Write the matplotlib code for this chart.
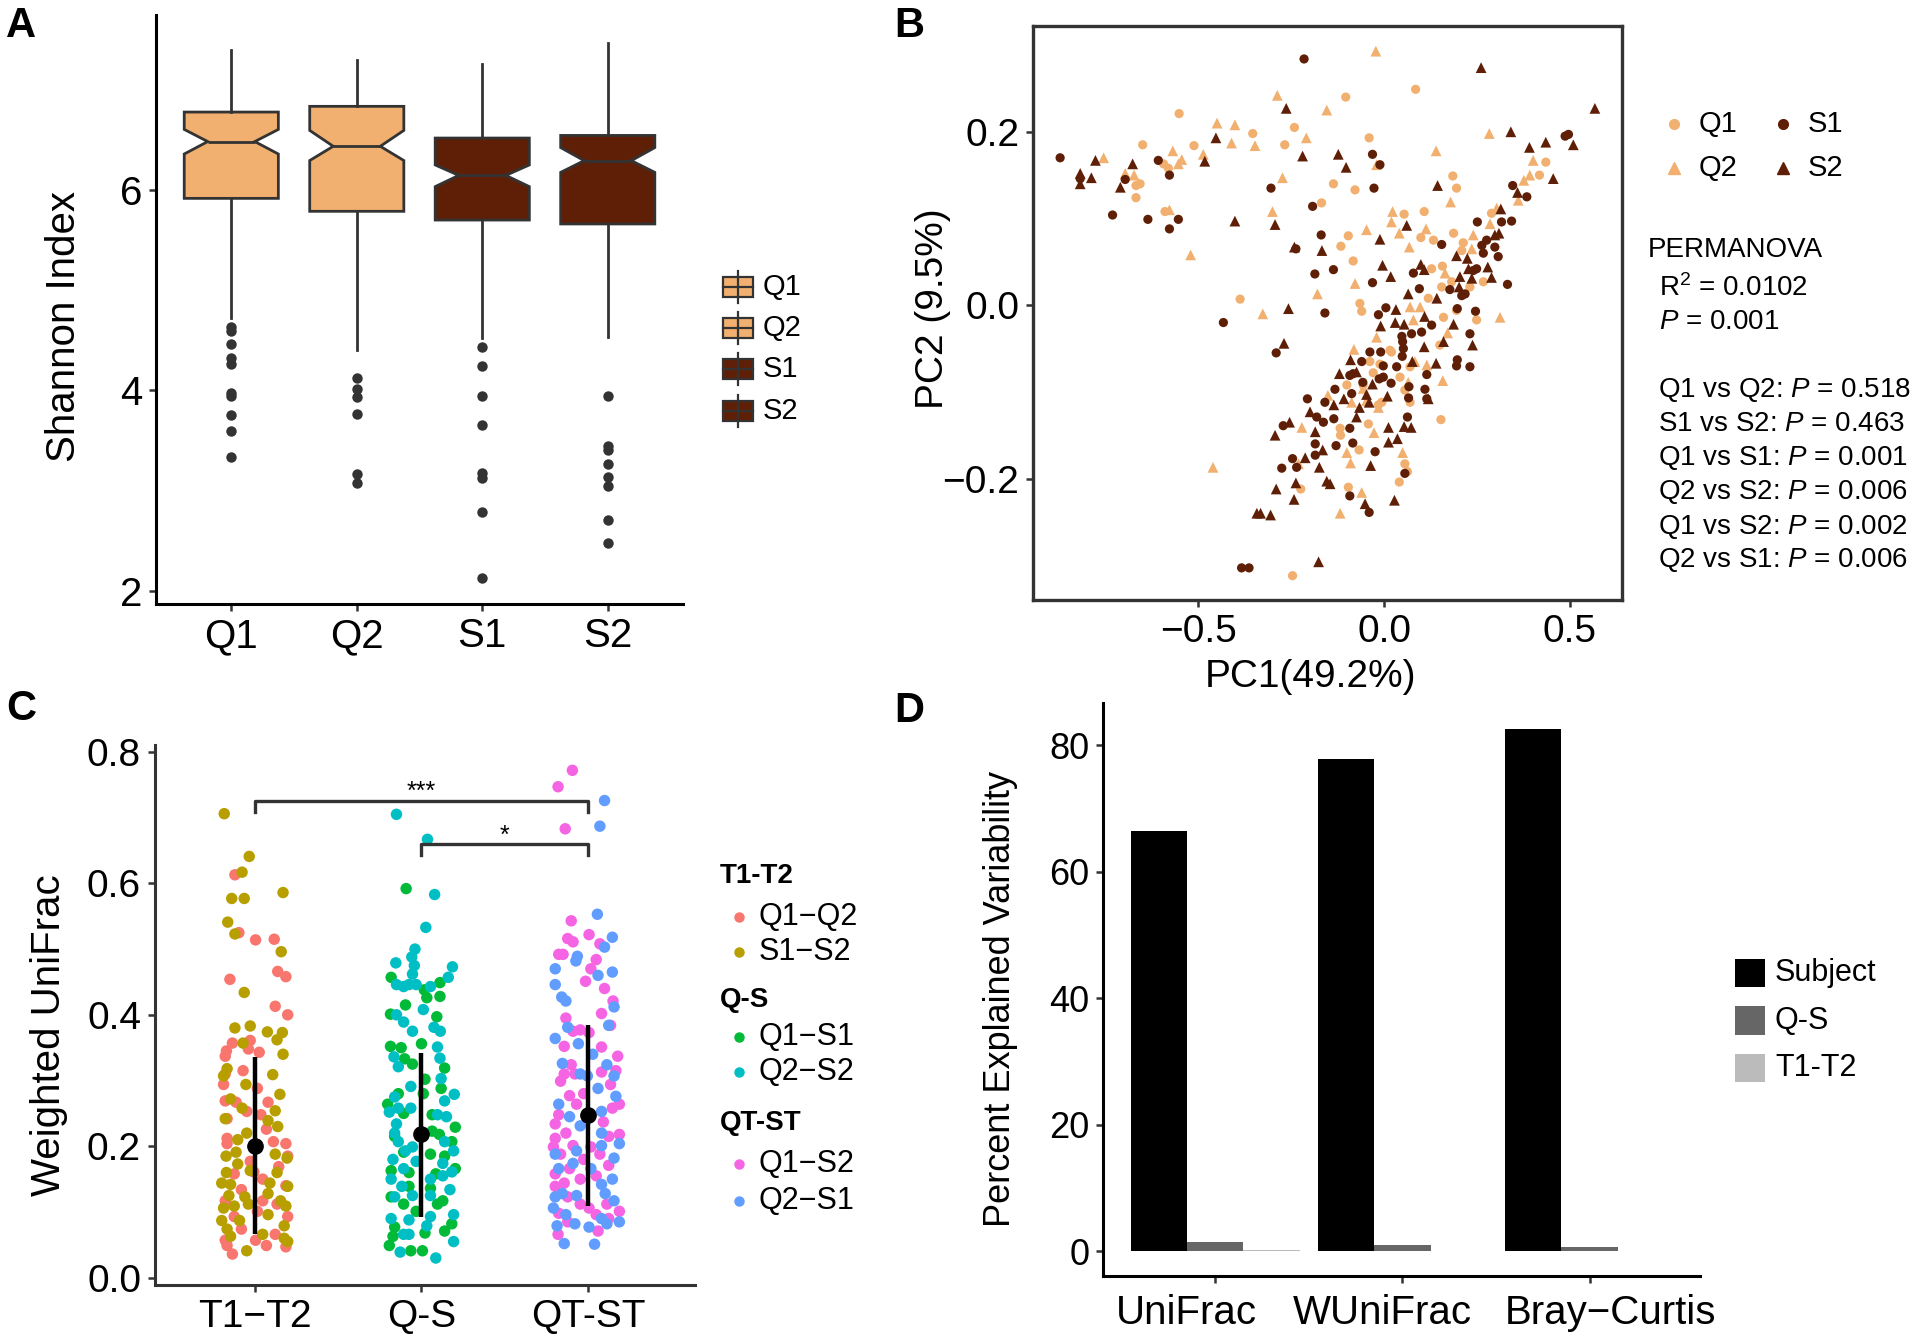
import matplotlib

matplotlib.use("Agg")
import matplotlib.pyplot as plt
from matplotlib.patches import Rectangle
from matplotlib.lines import Line2D

plt.rcParams["font.family"] = ["Liberation Sans", "DejaVu Sans"]
plt.rcParams["mathtext.fontset"] = "custom"
plt.rcParams["mathtext.rm"] = "Liberation Sans"
plt.rcParams["mathtext.it"] = "Liberation Sans:italic"

LIGHT = "#F1B06F"
DARK = "#5F1F07"
GREY = "#333333"

# ---------------- panel A: Shannon index ----------------
a_groups = ["Q1", "Q2", "S1", "S2"]
a_med = [6.479, 6.432, 6.142, 6.289]
a_q1 = [5.913, 5.784, 5.697, 5.658]
a_q3 = [6.773, 6.830, 6.514, 6.540]
a_cilo = [6.355, 6.290, 6.030, 6.172]
a_cihi = [6.600, 6.590, 6.246, 6.419]
a_whislo = [4.720, 4.397, 4.519, 4.527]
a_whishi = [7.390, 7.296, 7.248, 7.464]
a_fliers = [
    [4.635, 4.592, 4.462, 4.324, 4.259, 3.978, 3.948, 3.754, 3.590, 3.331],
    [4.121, 4.009, 3.931, 3.767, 3.171, 3.072],
    [4.427, 4.246, 3.944, 3.659, 3.179, 3.123, 2.791, 2.134],
    [3.944, 3.447, 3.404, 3.266, 3.136, 3.042, 2.704, 2.480],
]
a_colors = [LIGHT, LIGHT, DARK, DARK]

# ---------------- panel B: PCoA ----------------
b_q1 = [(-0.551, 0.221), (-0.649, 0.185), (-0.511, 0.184), (-0.353, 0.198), (-0.241, 0.205),
        (-0.267, 0.185), (-0.593, 0.163), (-0.580, 0.158), (-0.667, 0.138), (-0.656, 0.140),
        (-0.667, 0.124), (-0.589, 0.108), (-0.168, 0.118), (-0.387, 0.007),
        (0.085, 0.249), (-0.103, 0.240), (-0.040, 0.193), (-0.136, 0.140), (-0.078, 0.133),
        (0.185, 0.149), (0.195, 0.135), (0.054, 0.105), (0.108, 0.108), (-0.096, 0.080),
        (-0.116, 0.068), (0.187, 0.083), (0.099, 0.078), (0.133, 0.075), (-0.083, 0.051),
        (0.435, 0.165), (0.418, 0.150), (0.213, 0.072), (0.209, 0.063), (0.289, 0.106),
        (0.128, 0.042), (0.157, 0.045), (0.155, 0.021), (0.182, 0.027), (-0.065, 0.002),
        (-0.060, -0.007), (0.119, 0.008), (0.160, -0.014), (0.195, -0.006), (0.231, 0.021),
        (0.267, 0.027), (-0.224, -0.212), (-0.246, -0.312),
        (0.249, -0.017), (0.016, -0.052), (-0.038, -0.065), (-0.011, -0.068), (0.070, -0.071),
        (0.043, -0.083), (0.056, -0.098), (0.070, -0.112), (-0.015, -0.115), (-0.006, -0.112),
        (-0.042, -0.137), (-0.118, -0.142), (-0.117, -0.150), (-0.067, -0.167), (0.153, -0.132),
        (0.056, -0.183), (0.063, -0.192), (0.041, -0.204), (-0.096, -0.210), (-0.056, -0.092),
        (-0.100, -0.092), (-0.029, -0.078), (0.020, -0.054), (0.150, -0.046)]
b_q2 = [(-0.287, 0.242), (-0.449, 0.210), (-0.401, 0.208), (-0.209, 0.193), (-0.410, 0.187),
        (-0.347, 0.184), (-0.568, 0.178), (-0.486, 0.174), (-0.544, 0.168), (-0.553, 0.163),
        (-0.754, 0.170), (-0.696, 0.152), (-0.672, 0.150), (-0.273, 0.147), (-0.577, 0.110),
        (-0.300, 0.108), (-0.520, 0.058), (-0.179, 0.013), (-0.326, -0.010), (-0.154, 0.225),
        (-0.022, 0.293), (0.283, 0.198), (0.140, 0.178), (-0.020, 0.162), (0.179, 0.119),
        (0.023, 0.108), (0.020, 0.096), (-0.047, 0.087), (0.041, 0.083), (0.113, 0.088),
        (0.068, 0.067), (0.240, 0.081), (0.401, 0.167), (0.392, 0.150), (0.376, 0.144),
        (0.361, 0.121), (0.303, 0.112), (0.285, 0.094), (-0.078, 0.025), (0.070, -0.002),
        (0.097, -0.002), (0.312, -0.014), (0.164, 0.037), (0.236, 0.065),
        (-0.221, -0.141), (-0.460, -0.187), (-0.230, -0.183), (-0.151, -0.104),
        (0.079, -0.017), (0.171, -0.032), (-0.081, -0.051), (-0.020, -0.037), (0.115, -0.069),
        (0.158, -0.087), (-0.056, -0.096), (-0.087, -0.112), (-0.047, -0.110), (-0.015, -0.118),
        (-0.027, -0.147), (-0.100, -0.170), (-0.090, -0.182), (0.050, -0.170), (-0.060, -0.216),
        (-0.118, -0.240), (0.065, -0.089), (0.083, -0.065)]
b_s1 = [(-0.215, 0.284), (-0.871, 0.170), (-0.607, 0.167), (-0.577, 0.150), (-0.696, 0.145),
        (-0.817, 0.146), (-0.304, 0.135), (-0.192, 0.114), (-0.730, 0.104), (-0.635, 0.099),
        (-0.553, 0.099), (-0.577, 0.088), (-0.169, 0.081), (-0.237, 0.065), (-0.186, 0.036),
        (-0.159, -0.009),
        (0.496, 0.197), (0.487, 0.195), (-0.031, 0.174), (-0.011, 0.162), (-0.027, 0.135),
        (0.346, 0.138), (0.384, 0.125), (0.251, 0.096), (0.316, 0.096), (0.343, 0.097),
        (0.155, 0.070), (0.263, 0.069), (0.276, 0.075), (0.298, 0.067), (0.307, 0.056),
        (0.267, 0.060), (0.079, 0.037), (-0.031, 0.026), (0.095, 0.019), (0.177, 0.018),
        (0.249, 0.042), (0.240, 0.040), (0.332, 0.024), (-0.136, 0.041), (0.005, -0.003),
        (-0.015, -0.011), (0.197, -0.004), (0.246, -0.007), (0.218, 0.013), (0.209, 0.011),
        (-0.432, -0.020), (-0.290, -0.055), (-0.206, -0.108), (-0.159, -0.112), (-0.271, -0.139),
        (-0.181, -0.129), (-0.163, -0.135), (-0.185, -0.160), (-0.185, -0.173), (-0.246, -0.177),
        (-0.275, -0.188), (-0.235, -0.187), (-0.383, -0.303), (-0.363, -0.303),
        (0.231, -0.033), (0.197, -0.063), (0.195, -0.070), (0.231, -0.071), (0.115, -0.080),
        (-0.038, -0.054), (-0.009, -0.054), (-0.060, -0.065), (-0.002, -0.070), (-0.057, -0.089),
        (0.019, -0.090), (0.067, -0.094), (0.110, -0.097), (0.066, -0.107), (0.115, -0.108),
        (-0.132, -0.097), (-0.087, -0.102), (-0.135, -0.131), (-0.092, -0.142), (-0.084, -0.159),
        (-0.129, -0.162), (-0.024, -0.169), (0.063, -0.129), (0.056, -0.194), (-0.092, -0.220),
        (-0.040, -0.239), (0.048, -0.036), (0.052, -0.050), (-0.002, -0.083), (-0.013, -0.085),
        (-0.092, -0.081), (-0.083, -0.079), (0.034, -0.071), (0.049, -0.059), (0.074, -0.033),
        (0.101, -0.031), (0.128, -0.023), (0.050, -0.042)]
b_s2 = [(-0.263, 0.227), (-0.452, 0.193), (-0.776, 0.167), (-0.482, 0.166), (-0.676, 0.163),
        (-0.219, 0.172), (-0.817, 0.152), (-0.787, 0.147), (-0.817, 0.140), (-0.709, 0.136),
        (-0.401, 0.097), (-0.293, 0.093), (-0.241, 0.067), (-0.167, 0.063), (-0.257, -0.004),
        (0.261, 0.274), (0.567, 0.227), (0.341, 0.200), (0.391, 0.182), (0.435, 0.188),
        (0.509, 0.185), (0.455, 0.146), (-0.123, 0.174), (-0.102, 0.159), (0.144, 0.138),
        (0.359, 0.130), (0.314, 0.111), (0.061, 0.092), (-0.011, 0.076), (0.309, 0.083),
        (0.298, 0.081), (-0.004, 0.046), (0.018, 0.033), (0.099, 0.047), (0.108, 0.041),
        (0.065, 0.013), (0.195, 0.057), (0.224, 0.054), (0.227, 0.042), (0.279, 0.044),
        (0.289, 0.032), (0.204, 0.033), (0.236, 0.031), (0.032, -0.005), (0.109, -0.013),
        (0.142, 0.008), (0.202, 0.021),
        (-0.269, -0.044), (-0.254, -0.135), (-0.293, -0.150), (-0.199, -0.123), (-0.185, -0.146),
        (-0.212, -0.176), (-0.165, -0.167), (-0.174, -0.187), (-0.154, -0.203), (-0.237, -0.205),
        (-0.290, -0.212), (-0.242, -0.224), (-0.342, -0.240), (-0.332, -0.240), (-0.305, -0.242),
        (-0.176, -0.296),
        (-0.009, -0.024), (0.030, -0.020), (0.054, -0.022), (0.187, -0.022), (0.160, -0.042),
        (0.238, -0.046), (0.108, -0.048), (0.076, -0.065), (0.140, -0.067), (-0.090, -0.063),
        (-0.120, -0.079), (-0.074, -0.077), (-0.031, -0.091), (0.009, -0.105), (0.119, -0.108),
        (-0.047, -0.103), (-0.040, -0.112), (-0.108, -0.108), (-0.135, -0.115), (-0.066, -0.118),
        (-0.074, -0.129), (0.012, -0.141), (0.054, -0.140), (0.073, -0.141), (0.012, -0.158),
        (0.036, -0.154), (-0.036, -0.185), (-0.051, -0.229), (0.028, -0.225), (-0.145, -0.206)]
b_pairs = ["Q1 vs Q2", "S1 vs S2", "Q1 vs S1", "Q2 vs S2", "Q1 vs S2", "Q2 vs S1"]
b_pvals = ["0.518", "0.463", "0.001", "0.006", "0.002", "0.006"]

# ---------------- panel C: weighted UniFrac (jitter offset, value) ----------------
c_cats = ["T1\u2212T2", "Q-S", "QT-ST"]
c_q1q2 = [(-0.120, 0.613), (-0.096, 0.525), (0.004, 0.514), (0.116, 0.515), (-0.150, 0.454),
          (0.137, 0.466), (0.186, 0.458), (0.122, 0.413), (0.197, 0.400), (-0.135, 0.357),
          (-0.028, 0.361), (-0.171, 0.345), (-0.178, 0.337), (-0.039, 0.348), (-0.071, 0.315),
          (-0.178, 0.310), (0.026, 0.343), (-0.188, 0.294), (-0.178, 0.269), (-0.113, 0.267),
          (0.079, 0.267), (0.015, 0.288), (-0.167, 0.242), (0.036, 0.248), (-0.049, 0.253),
          (-0.167, 0.212), (-0.167, 0.204), (0.069, 0.226), (0.186, 0.204), (0.197, 0.185),
          (0.111, 0.207), (-0.028, 0.177), (-0.124, 0.158), (0.143, 0.169), (0.047, 0.150),
          (-0.006, 0.161), (0.186, 0.140), (-0.081, 0.134), (-0.178, 0.117), (0.047, 0.117),
          (0.133, 0.112), (0.015, 0.101), (-0.124, 0.093), (0.197, 0.093), (-0.178, 0.057),
          (0.004, 0.057), (0.069, 0.049), (-0.167, 0.049), (-0.135, 0.036), (0.186, 0.047),
          (0.122, 0.066), (-0.081, 0.074)]
c_s1s2 = [(-0.184, 0.706), (-0.034, 0.641), (-0.077, 0.617), (-0.139, 0.577), (-0.064, 0.577),
          (0.169, 0.586), (-0.163, 0.541), (-0.120, 0.523), (0.158, 0.496), (-0.064, 0.434),
          (-0.120, 0.380), (-0.028, 0.383), (0.075, 0.374), (0.165, 0.373), (0.133, 0.362),
          (0.169, 0.340), (-0.071, 0.357), (0.107, 0.309), (-0.167, 0.318), (-0.188, 0.307),
          (-0.054, 0.294), (0.150, 0.279), (-0.146, 0.272), (-0.077, 0.258), (0.122, 0.254),
          (-0.178, 0.242), (0.079, 0.239), (0.137, 0.230), (-0.103, 0.210), (-0.049, 0.220),
          (-0.173, 0.185), (-0.113, 0.191), (0.122, 0.188), (0.193, 0.182), (-0.103, 0.173),
          (-0.028, 0.163), (-0.171, 0.160), (-0.199, 0.144), (-0.146, 0.142), (0.133, 0.160),
          (0.090, 0.144), (0.197, 0.139), (-0.156, 0.125), (-0.060, 0.123), (0.079, 0.128),
          (0.154, 0.117), (-0.188, 0.106), (-0.124, 0.109), (-0.039, 0.112), (0.186, 0.109),
          (-0.199, 0.087), (-0.092, 0.087), (0.079, 0.096), (0.176, 0.079), (-0.167, 0.074),
          (0.047, 0.066), (-0.146, 0.063), (0.176, 0.060), (-0.049, 0.041), (0.197, 0.055)]
c_q1s1 = [(-0.092, 0.592), (-0.182, 0.457), (0.111, 0.449), (0.017, 0.438), (0.032, 0.426),
          (0.111, 0.428), (-0.096, 0.415), (-0.186, 0.401), (0.092, 0.397), (0.000, 0.356),
          (-0.186, 0.352), (-0.122, 0.350), (-0.101, 0.333), (-0.054, 0.325), (0.139, 0.319),
          (0.021, 0.302), (0.118, 0.288), (-0.139, 0.280), (0.011, 0.280), (-0.203, 0.264),
          (-0.107, 0.250), (0.064, 0.248), (0.203, 0.229), (-0.161, 0.215), (0.064, 0.223),
          (0.107, 0.218), (0.182, 0.207), (-0.107, 0.191), (0.054, 0.188), (0.139, 0.185),
          (-0.182, 0.163), (-0.075, 0.160), (0.086, 0.158), (0.203, 0.166), (-0.075, 0.139),
          (0.054, 0.136), (0.128, 0.117), (-0.182, 0.123), (-0.107, 0.112), (-0.032, 0.101),
          (0.096, 0.112), (0.182, 0.082), (-0.161, 0.077), (-0.171, 0.063), (0.139, 0.071),
          (-0.193, 0.049), (0.006, 0.041), (-0.064, 0.041), (0.021, 0.068)]
c_q2s2 = [(-0.150, 0.705), (0.036, 0.667), (0.079, 0.583), (0.026, 0.533), (-0.039, 0.500),
          (-0.058, 0.488), (-0.043, 0.475), (-0.154, 0.479), (-0.054, 0.462), (0.186, 0.473),
          (0.161, 0.457), (-0.075, 0.446), (-0.150, 0.446), (-0.107, 0.443), (-0.032, 0.446),
          (0.054, 0.443), (0.011, 0.408), (-0.150, 0.400), (-0.107, 0.389), (-0.054, 0.375),
          (0.075, 0.381), (0.113, 0.375), (0.096, 0.351), (0.111, 0.334), (-0.165, 0.336),
          (-0.139, 0.321), (0.118, 0.303), (-0.064, 0.291), (-0.161, 0.275), (0.139, 0.269),
          (0.197, 0.279), (-0.139, 0.258), (-0.193, 0.252), (-0.064, 0.258), (0.096, 0.248),
          (0.150, 0.245), (-0.150, 0.234), (-0.161, 0.220), (-0.139, 0.207), (-0.096, 0.193),
          (-0.054, 0.199), (0.139, 0.207), (0.193, 0.193), (-0.171, 0.180), (-0.107, 0.166),
          (-0.032, 0.177), (0.128, 0.174), (0.182, 0.161), (-0.182, 0.150), (-0.118, 0.139),
          (0.054, 0.150), (0.128, 0.155), (-0.161, 0.123), (-0.054, 0.125), (0.054, 0.125),
          (0.171, 0.134), (-0.182, 0.090), (-0.075, 0.088), (0.032, 0.079), (0.193, 0.096),
          (-0.107, 0.066), (-0.075, 0.066), (0.054, 0.093), (0.193, 0.055), (-0.128, 0.039),
          (0.086, 0.030)]
c_q1s2 = [(-0.094, 0.772), (-0.180, 0.747), (-0.137, 0.683), (-0.101, 0.543), (0.006, 0.522),
          (-0.122, 0.516), (-0.090, 0.511), (0.071, 0.508), (-0.176, 0.492), (-0.150, 0.492),
          (0.049, 0.484), (0.017, 0.470), (-0.015, 0.451), (0.099, 0.440), (0.150, 0.421),
          (0.081, 0.402), (-0.133, 0.395), (0.135, 0.384), (-0.090, 0.375), (-0.047, 0.377),
          (0.006, 0.373), (-0.143, 0.352), (0.081, 0.351), (0.178, 0.337), (0.167, 0.315),
          (0.081, 0.313), (-0.101, 0.324), (-0.143, 0.310), (-0.165, 0.299), (-0.079, 0.310),
          (0.135, 0.294), (-0.026, 0.280), (-0.111, 0.277), (-0.069, 0.264), (-0.176, 0.248),
          (0.188, 0.264), (0.146, 0.258), (0.092, 0.237), (-0.197, 0.234), (-0.133, 0.220),
          (-0.197, 0.212), (-0.090, 0.201), (0.017, 0.199), (0.124, 0.215), (0.188, 0.218),
          (-0.208, 0.199), (-0.165, 0.188), (0.071, 0.188), (-0.026, 0.180), (0.124, 0.171),
          (-0.111, 0.166), (-0.197, 0.158), (-0.047, 0.150), (0.049, 0.155), (-0.143, 0.144),
          (-0.197, 0.139), (-0.122, 0.123), (-0.047, 0.112), (0.006, 0.106), (0.113, 0.112),
          (-0.176, 0.098), (0.188, 0.101), (0.049, 0.096), (-0.122, 0.085), (0.124, 0.090),
          (-0.180, 0.066), (0.060, 0.071)]
c_q2s1 = [(0.099, 0.726), (0.071, 0.687), (0.056, 0.553), (0.146, 0.518), (0.099, 0.503),
          (-0.064, 0.489), (-0.073, 0.482), (-0.197, 0.470), (0.060, 0.460), (0.146, 0.465),
          (-0.197, 0.446), (-0.158, 0.427), (-0.133, 0.421), (0.156, 0.412), (0.124, 0.384),
          (-0.197, 0.364), (-0.122, 0.381), (-0.058, 0.356), (0.028, 0.340), (-0.154, 0.326),
          (0.113, 0.324), (0.156, 0.307), (-0.047, 0.310), (0.060, 0.288), (-0.004, 0.307),
          (-0.176, 0.264), (0.167, 0.276), (-0.111, 0.245), (0.081, 0.253), (0.188, 0.204),
          (-0.197, 0.188), (-0.047, 0.231), (0.081, 0.220), (-0.069, 0.193), (0.081, 0.201),
          (0.156, 0.182), (-0.176, 0.166), (-0.090, 0.174), (0.017, 0.166), (0.146, 0.150),
          (-0.154, 0.128), (0.081, 0.142), (-0.197, 0.123), (-0.069, 0.125), (0.103, 0.128),
          (0.156, 0.117), (-0.208, 0.106), (-0.133, 0.096), (0.081, 0.090), (0.188, 0.085),
          (-0.186, 0.079), (-0.079, 0.082), (0.006, 0.077), (-0.143, 0.052), (0.039, 0.051),
          (0.113, 0.082)]
c_mean = [0.201, 0.219, 0.248]
c_lo = [0.066, 0.093, 0.109]
c_hi = [0.336, 0.342, 0.385]

# ---------------- panel D: explained variability ----------------
d_metrics = ["UniFrac", "WUniFrac", "Bray\u2212Curtis"]
d_subject = [66.5, 77.9, 82.6]
d_qs = [1.5, 1.0, 0.66]
d_t1t2 = [0.15, 0.1, 0.1]

fig = plt.figure(figsize=(19.2, 13.41), dpi=100)


def style_axes(ax, lw=2.2):
    for side in ("top", "right"):
        ax.spines[side].set_visible(False)
    for side in ("left", "bottom"):
        ax.spines[side].set_linewidth(lw)
        ax.spines[side].set_color("black")
    ax.tick_params(length=5, width=1.8, color=GREY, labelcolor="black", pad=5)


def centre_labels(ax):
    ax.xaxis.label.set_verticalalignment("center")
    ax.yaxis.label.set_verticalalignment("center")


# ---- A
axA = fig.add_axes([0.08125, 0.5499, 0.2745, 0.4389])
stats = []
for i in range(4):
    stats.append(dict(med=a_med[i], q1=a_q1[i], q3=a_q3[i], cilo=a_cilo[i], cihi=a_cihi[i],
                      whislo=a_whislo[i], whishi=a_whishi[i], fliers=a_fliers[i], label=a_groups[i]))
bp = axA.bxp(stats, positions=[1, 2, 3, 4], widths=0.75, shownotches=True, showcaps=False,
             patch_artist=True,
             boxprops=dict(edgecolor=GREY, linewidth=2.0),
             medianprops=dict(color=GREY, linewidth=2.0),
             whiskerprops=dict(color=GREY, linewidth=2.0),
             flierprops=dict(marker="o", markerfacecolor=GREY, markeredgecolor="none", markersize=7.5))
for patch, col in zip(bp["boxes"], a_colors):
    patch.set_facecolor(col)
axA.set_xlim(0.4, 4.6)
axA.set_ylim(1.875, 7.74)
axA.set_yticks([2, 4, 6])
style_axes(axA)
axA.tick_params(labelsize=29)
axA.set_ylabel("Shannon Index", fontsize=29)
centre_labels(axA)
axA.yaxis.set_label_coords(-0.175, 0.47)

# ---- B
axB = fig.add_axes([0.5382, 0.5526, 0.3068, 0.4280])
for pts, col, mk, sz in ((b_q1, LIGHT, "o", 44), (b_q2, LIGHT, "^", 60),
                         (b_s1, DARK, "o", 44), (b_s2, DARK, "^", 60)):
    axB.scatter([p[0] for p in pts], [p[1] for p in pts], s=sz, c=col, marker=mk,
                edgecolors="none", zorder=3)
axB.set_xlim(-0.943, 0.641)
axB.set_ylim(-0.340, 0.322)
axB.set_xticks([-0.5, 0.0, 0.5])
axB.set_yticks([-0.2, 0.0, 0.2])
axB.set_xticklabels(["\u22120.5", "0.0", "0.5"])
axB.set_yticklabels(["\u22120.2", "0.0", "0.2"])
for sp in axB.spines.values():
    sp.set_linewidth(2.4)
    sp.set_color(GREY)
axB.tick_params(length=5, width=1.8, color=GREY, labelsize=28, pad=5)
axB.set_xlabel("PC1(49.2%)", fontsize=28)
axB.set_ylabel("PC2 (9.5%)", fontsize=28)
centre_labels(axB)
axB.xaxis.set_label_coords(0.47, -0.134)
axB.yaxis.set_label_coords(-0.171, 0.507)

# ---- C
axC = fig.add_axes([0.0807, 0.0418, 0.2811, 0.4024])
c_groups = [(c_q1q2, 1, "#F8766D"), (c_s1s2, 1, "#B79F00"),
            (c_q1s1, 2, "#00BA38"), (c_q2s2, 2, "#00BFC4"),
            (c_q1s2, 3, "#F564E3"), (c_q2s1, 3, "#619CFF")]
for pts, cat, col in c_groups:
    axC.scatter([cat + p[0] for p in pts], [p[1] for p in pts], s=68, c=col,
                edgecolors="none", zorder=2)
axC.vlines([1, 2, 3], c_lo, c_hi, color="black", linewidth=3.2, zorder=4)
axC.plot([1, 2, 3], c_mean, "o", color="black", markersize=11, zorder=5)
axC.plot([1, 1, 3, 3], [0.709, 0.7255, 0.7255, 0.709], color=GREY, linewidth=2.4, zorder=3)
axC.plot([2, 2, 3, 3], [0.643, 0.660, 0.660, 0.643], color=GREY, linewidth=2.4, zorder=3)
axC.text(2, 0.729, "***", ha="center", va="baseline", fontsize=18)
axC.text(2.5, 0.662, "*", ha="center", va="baseline", fontsize=18)
axC.set_xlim(0.4, 3.64)
axC.set_ylim(-0.011, 0.81)
axC.set_xticks([1, 2, 3])
axC.set_xticklabels(c_cats)
axC.set_yticks([0.0, 0.2, 0.4, 0.6, 0.8])
style_axes(axC)
axC.spines["left"].set_color(GREY)
axC.spines["bottom"].set_color(GREY)
axC.tick_params(labelsize=28)
axC.set_ylabel("Weighted UniFrac", fontsize=29)
centre_labels(axC)
axC.yaxis.set_label_coords(-0.197, 0.463)

# ---- D
axD = fig.add_axes([0.5745, 0.0481, 0.3109, 0.4277])
xs = [1, 2, 3]
axD.bar([x - 0.3 for x in xs], d_subject, width=0.3, color="black")
axD.bar(xs, d_qs, width=0.3, color="#666666")
axD.bar([x + 0.3 for x in xs], d_t1t2, width=0.3, color="#BBBBBB")
axD.set_xlim(0.4, 3.59)
axD.set_ylim(-4.0, 86.7)
axD.set_xticks(xs)
axD.set_xticklabels([])
axD.set_yticks([0, 20, 40, 60, 80])
style_axes(axD)
axD.tick_params(axis="y", labelsize=26)
# category names sit a little off their ticks in the original
for xc, lab in zip([0.843, 1.895, 3.111], d_metrics):
    axD.text(xc, -0.063, lab, transform=axD.get_xaxis_transform(), ha="center", va="center",
             fontsize=29)
axD.set_ylabel("Percent Explained Variability", fontsize=26)
centre_labels(axD)
axD.yaxis.set_label_coords(-0.171, 0.484)

# ---- overlay for legends, annotations and panel letters (figure pixels)
ov = fig.add_axes([0, 0, 1, 1])
ov.set_xlim(0, 1920)
ov.set_ylim(1341, 0)
ov.axis("off")
ov.patch.set_visible(False)

for x, y, lab in ((21, 26, "A"), (909, 26, "B"), (21, 709, "C"), (909, 711, "D")):
    ov.text(x, y, lab, fontsize=30, fontweight="bold", ha="center", va="center")

# legend A
for yc, lab, col in zip([287, 328, 369, 411], a_groups, a_colors):
    ov.add_line(Line2D([738, 738], [yc - 16, yc + 16], color=GREY, linewidth=1.6))
    ov.add_patch(Rectangle((723, yc - 10), 30, 20, facecolor=col, edgecolor=GREY, linewidth=1.6))
    ov.add_line(Line2D([723, 753], [yc, yc], color=GREY, linewidth=1.6))
    ov.text(763, yc, lab, fontsize=21, va="center")

# legend B
for x, y, col, mk, lab in ((1674, 124, LIGHT, "o", "Q1"), (1674, 168, LIGHT, "^", "Q2"),
                           (1783, 124, DARK, "o", "S1"), (1783, 168, DARK, "^", "S2")):
    ov.plot([x], [y], marker=mk, color=col, markersize=7 if mk == "o" else 8, linestyle="none")
    ov.text(x + 25, y, lab, fontsize=21, va="center")

ov.text(1648, 250, "PERMANOVA", fontsize=20, va="center")
ov.text(1659, 288, "R$^2$ = 0.0102", fontsize=20, va="center")
ov.text(1659, 322, "$P$ = 0.001", fontsize=20, va="center")
for yc, pair, pv in zip([390, 424, 458, 492, 527, 560], b_pairs, b_pvals):
    ov.text(1658, yc, pair + ": $P$ = " + pv, fontsize=20, va="center")

# legend C
c_leg = [("T1-T2", [("Q1\u2212Q2", "#F8766D"), ("S1\u2212S2", "#B79F00")], 876, [917, 952]),
         ("Q-S", [("Q1\u2212S1", "#00BA38"), ("Q2\u2212S2", "#00BFC4")], 1000, [1037, 1072]),
         ("QT-ST", [("Q1\u2212S2", "#F564E3"), ("Q2\u2212S1", "#619CFF")], 1123, [1164, 1201])]
for title, items, ty, iys in c_leg:
    ov.text(720, ty, title, fontsize=20, fontweight="bold", va="center")
    for (lab, col), iy in zip(items, iys):
        ov.plot([739], [iy], "o", color=col, markersize=6.5)
        ov.text(759, iy, lab, fontsize=22, va="center")

# legend D
for yc, lab, col in zip([973, 1020.6, 1067.9], ["Subject", "Q-S", "T1-T2"],
                        ["black", "#666666", "#BBBBBB"]):
    ov.add_patch(Rectangle((1735, yc - 14.3), 30, 28.6, facecolor=col, edgecolor="none"))
    ov.text(1775, yc, lab, fontsize=22, va="center")

fig.savefig("out.png", dpi=100)
